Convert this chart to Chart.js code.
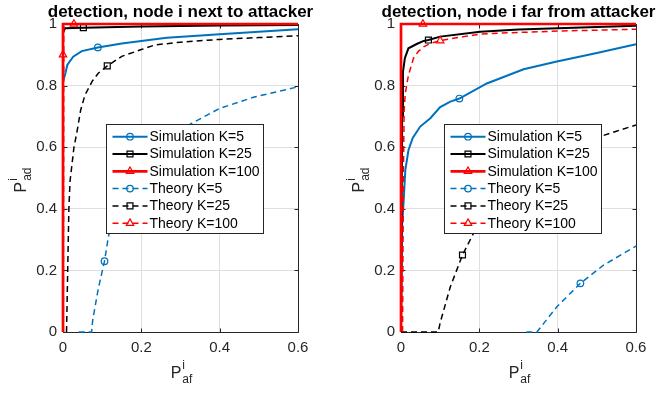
<!DOCTYPE html>
<html><head><meta charset="utf-8">
<script src="https://cdn.jsdelivr.net/npm/chart.js@4/dist/chart.umd.min.js"></script>
<style>
html,body{margin:0;padding:0;background:#fff;}
#wrap{position:relative;width:659px;height:395px;overflow:hidden;background:#fff;}
#c1{position:absolute;left:0;top:0;width:330px;height:395px;}
#c2{position:absolute;left:330px;top:0;width:329px;height:395px;}
</style></head><body>
<div id="wrap"><canvas id="c1" width="330" height="395"></canvas><canvas id="c2" width="329" height="395"></canvas></div>
<script>
// ---------- data ----------
const xTicks = [0, 0.2, 0.4, 0.6];
const yTicks = [0, 0.2, 0.4, 0.6, 0.8, 1];
const seriesNames = ['Simulation K=5', 'Simulation K=25', 'Simulation K=100', 'Theory K=5', 'Theory K=25', 'Theory K=100'];
const panelTitles = ['detection, node i next to attacker', 'detection, node i far from attacker'];

// left panel: node i next to attacker
const nearSimK5X = [0, 0.005, 0.011, 0.026, 0.048, 0.089, 0.15, 0.2, 0.265, 0.4, 0.5, 0.6];
const nearSimK5Y = [0.815, 0.834, 0.867, 0.894, 0.912, 0.924, 0.937, 0.945, 0.955, 0.967, 0.975, 0.983];
const nearSimK25X = [0, 0.005, 0.052, 0.2, 0.4, 0.6];
const nearSimK25Y = [0.97, 0.986, 0.988, 0.992, 0.995, 0.997];
const nearSimK100X = [0, 0, 0, 0.028, 0.6];
const nearSimK100Y = [0, 0.9, 1, 1, 1];
const nearThK5X = [0.04, 0.073, 0.076, 0.09, 0.106, 0.116, 0.13, 0.15, 0.2, 0.25, 0.3, 0.328, 0.4, 0.486, 0.6];
const nearThK5Y = [0, 0, 0.04, 0.14, 0.23, 0.31, 0.38, 0.45, 0.545, 0.605, 0.655, 0.677, 0.726, 0.762, 0.796];
const nearThK25X = [0.009, 0.012, 0.015, 0.018, 0.028, 0.035, 0.045, 0.056, 0.075, 0.09, 0.113, 0.15, 0.2, 0.235, 0.3, 0.4, 0.5, 0.6];
const nearThK25Y = [0, 0.2, 0.4, 0.49, 0.6, 0.645, 0.72, 0.769, 0.815, 0.84, 0.864, 0.895, 0.917, 0.932, 0.941, 0.95, 0.956, 0.962];
const nearThK100X = [0.001, 0.002, 0.6];
const nearThK100Y = [0, 1, 1];

// right panel: node i far from attacker
const farSimK5X = [0, 0.003, 0.007, 0.011, 0.019, 0.03, 0.049, 0.075, 0.1, 0.126, 0.149, 0.219, 0.313, 0.398, 0.5, 0.6];
const farSimK5Y = [0, 0.35, 0.43, 0.526, 0.59, 0.63, 0.667, 0.694, 0.73, 0.748, 0.758, 0.807, 0.853, 0.878, 0.906, 0.934];
const farSimK25X = [0, 0.003, 0.005, 0.01, 0.019, 0.04, 0.058, 0.07, 0.1, 0.202, 0.3, 0.4, 0.6];
const farSimK25Y = [0, 0.7, 0.845, 0.89, 0.921, 0.935, 0.945, 0.948, 0.959, 0.975, 0.982, 0.986, 0.994];
const farSimK100X = [0, 0, 0.056, 0.6];
const farSimK100Y = [0, 1, 1, 1];
const farThK5X = [0.32, 0.347, 0.398, 0.458, 0.517, 0.6];
const farThK5Y = [0, 0, 0.082, 0.158, 0.217, 0.279];
const farThK25X = [0, 0.095, 0.1, 0.126, 0.157, 0.181, 0.2, 0.25, 0.3, 0.35, 0.4, 0.45, 0.507, 0.55, 0.6];
const farThK25Y = [0, 0, 0.03, 0.147, 0.25, 0.31, 0.355, 0.44, 0.5, 0.545, 0.58, 0.61, 0.634, 0.652, 0.672];
const farThK100X = [0.004, 0.006, 0.008, 0.011, 0.019, 0.032, 0.045, 0.058, 0.075, 0.1, 0.16, 0.202, 0.245, 0.4, 0.6];
const farThK100Y = [0, 0.5, 0.72, 0.775, 0.834, 0.889, 0.912, 0.926, 0.937, 0.946, 0.959, 0.967, 0.97, 0.977, 0.983];

// ---------- styles ----------
const FONT = '"Liberation Sans", Arial, Helvetica, sans-serif';
const seriesStyles = [
  {color: '#0072BD', width: 2,   dash: [],     point: 'circle',   r: 3.3},
  {color: '#000000', width: 2,   dash: [],     point: 'rect',     r: 4.2},
  {color: '#FF0000', width: 2.7, dash: [],     point: 'triangle', r: 4.3},
  {color: '#0072BD', width: 1.5, dash: [6, 4], point: 'circle',   r: 3.3},
  {color: '#000000', width: 1.5, dash: [6, 4], point: 'rect',     r: 4.2},
  {color: '#FF0000', width: 1.5, dash: [6, 4], point: 'triangle', r: 4.3}
];
const nearMarkerIdx = [[5], [2], [1, 3], [4], [10], []];
const farMarkerIdx  = [[10], [7], [2], [3], [4], [9]];

function pts(xs, ys) { return xs.map((x, i) => ({x: x, y: ys[i]})); }

function makeDatasets(series, markerIdx) {
  return series.map((s, i) => {
    const st = seriesStyles[i];
    const mk = markerIdx[i];
    return {
      label: seriesNames[i],
      data: pts(s[0], s[1]),
      showLine: true,
      fill: false,
      tension: 0,
      clip: 5,
      borderColor: st.color,
      borderWidth: st.width,
      borderDash: st.dash,
      backgroundColor: 'rgba(0,0,0,0)',
      pointStyle: st.point,
      pointRadius: c => mk.includes(c.dataIndex) ? st.r : 0,
      pointHoverRadius: 0,
      pointBorderWidth: 1.2,
      pointBorderColor: st.color,
      pointBackgroundColor: 'rgba(0,0,0,0)',
      order: 10 - i,
      legendR: st.r
    };
  });
}

function fmt(v) { return String(Math.round(v * 10) / 10); }

function drawMarker(ctx, style, x, y, r) {
  ctx.beginPath();
  if (style === 'circle') {
    ctx.arc(x, y, r, 0, Math.PI * 2);
  } else if (style === 'rect') {
    const s = Math.SQRT1_2 * r;
    ctx.rect(x - s, y - s, 2 * s, 2 * s);
  } else if (style === 'triangle') {
    let a = 0;
    ctx.moveTo(x + Math.sin(a) * r, y - Math.cos(a) * r);
    a += 2 * Math.PI / 3;
    ctx.lineTo(x + Math.sin(a) * r, y - Math.cos(a) * r);
    a += 2 * Math.PI / 3;
    ctx.lineTo(x + Math.sin(a) * r, y - Math.cos(a) * r);
    ctx.closePath();
  }
  ctx.stroke();
}

function drawPLabel(ctx, sub, cx, base) {
  const fMain = '16px ' + FONT, fSmall = '12px ' + FONT;
  ctx.font = fMain; const wP = ctx.measureText('P').width;
  ctx.font = fSmall; const wSup = ctx.measureText('i').width; const wSub = ctx.measureText(sub).width;
  const w = wP + 1 + Math.max(wSup, wSub);
  const x0 = cx - w / 2;
  ctx.fillStyle = '#262626';
  ctx.textAlign = 'left';
  ctx.textBaseline = 'alphabetic';
  ctx.font = fMain; ctx.fillText('P', x0, base);
  ctx.font = fSmall;
  ctx.fillText('i', x0 + wP + 1, base - 9);
  ctx.fillText(sub, x0 + wP + 1, base + 5);
}

const panelPlugin = {
  id: 'panel',
  beforeDatasetsDraw(chart) {
    const ctx = chart.ctx, a = chart.chartArea;
    const xs = chart.scales.x, ys = chart.scales.y;
    const L = Math.round(a.left) + 0.5, R = Math.round(a.right) + 0.5;
    const T = Math.round(a.top) + 0.5, B = Math.round(a.bottom) + 0.5;
    const tl = 4;
    ctx.save();
    ctx.strokeStyle = '#262626';
    ctx.lineWidth = 1;
    ctx.beginPath();
    ctx.rect(L, T, R - L, B - T);
    xTicks.forEach(v => {
      const p = Math.round(xs.getPixelForValue(v)) + 0.5;
      ctx.moveTo(p, B); ctx.lineTo(p, B - tl);
      ctx.moveTo(p, T); ctx.lineTo(p, T + tl);
    });
    yTicks.forEach(v => {
      const p = Math.round(ys.getPixelForValue(v)) + 0.5;
      ctx.moveTo(L, p); ctx.lineTo(L + tl, p);
      ctx.moveTo(R, p); ctx.lineTo(R - tl, p);
    });
    ctx.stroke();
    ctx.restore();
  },
  afterDraw(chart, args, opts) {
    const ctx = chart.ctx, a = chart.chartArea;
    const cx = (a.left + a.right) / 2;
    ctx.save();
    // title
    ctx.fillStyle = '#000';
    ctx.font = 'bold 17px ' + FONT;
    ctx.textAlign = 'center';
    ctx.textBaseline = 'alphabetic';
    ctx.fillText(opts.title, cx, 16.5);
    // x label
    drawPLabel(ctx, 'af', cx + 1, 378);
    // y label
    ctx.save();
    ctx.translate(a.left - 37.5, (a.top + a.bottom) / 2 + 2);
    ctx.rotate(-Math.PI / 2);
    drawPLabel(ctx, 'ad', 0, 0);
    ctx.restore();
    // legend
    const lx = Math.round(a.left + 42.5) + 0.5, ly = 124.5, lw = 157, lh = 109;
    ctx.fillStyle = '#fff';
    ctx.fillRect(lx, ly, lw, lh);
    ctx.strokeStyle = '#262626';
    ctx.lineWidth = 1;
    ctx.strokeRect(lx, ly, lw, lh);
    chart.data.datasets.forEach((ds, i) => {
      const cy = 136.7 + 17.3 * i;
      ctx.save();
      ctx.strokeStyle = ds.borderColor;
      ctx.lineWidth = ds.borderWidth;
      ctx.setLineDash(ds.borderDash || []);
      ctx.beginPath();
      ctx.moveTo(lx + 6, cy); ctx.lineTo(lx + 41, cy);
      ctx.stroke();
      ctx.setLineDash([]);
      ctx.lineWidth = 1.2;
      drawMarker(ctx, ds.pointStyle, lx + 23.5, cy, ds.legendR);
      ctx.restore();
      ctx.fillStyle = '#000';
      ctx.font = '14px ' + FONT;
      ctx.textAlign = 'left';
      ctx.textBaseline = 'middle';
      ctx.fillText(ds.label, lx + 43, cy + 0.5);
    });
    ctx.restore();
  }
};

function makeChart(id, series, markerIdx, title, areaLeft, padRight) {
  const tickFont = {family: FONT, size: 15};
  return new Chart(document.getElementById(id), {
    type: 'scatter',
    data: {datasets: makeDatasets(series, markerIdx)},
    plugins: [panelPlugin],
    options: {
      responsive: false,
      animation: false,
      devicePixelRatio: 1,
      layout: {padding: {left: 0, right: padRight, top: 24, bottom: 0}},
      plugins: {legend: {display: false}, tooltip: {enabled: false}, panel: {title: title}},
      scales: {
        x: {
          type: 'linear', min: 0, max: 0.6,
          afterBuildTicks: s => { s.ticks = xTicks.map(v => ({value: v})); },
          afterFit: s => { s.height = 63; },
          ticks: {font: tickFont, color: '#262626', padding: 7, maxRotation: 0, autoSkip: false, callback: v => fmt(v)},
          grid: {color: '#dfdfdf', lineWidth: 1, drawTicks: false},
          border: {display: false}
        },
        y: {
          type: 'linear', min: 0, max: 1,
          afterBuildTicks: s => { s.ticks = yTicks.map(v => ({value: v})); },
          afterFit: s => { s.width = areaLeft; },
          ticks: {font: tickFont, color: '#262626', padding: 6, autoSkip: false, callback: v => fmt(v)},
          grid: {color: '#dfdfdf', lineWidth: 1, drawTicks: false},
          border: {display: false}
        }
      }
    }
  });
}

makeChart('c1', [
  [nearSimK5X, nearSimK5Y], [nearSimK25X, nearSimK25Y], [nearSimK100X, nearSimK100Y],
  [nearThK5X, nearThK5Y], [nearThK25X, nearThK25Y], [nearThK100X, nearThK100Y]
], nearMarkerIdx, panelTitles[0], 63, 32);

makeChart('c2', [
  [farSimK5X, farSimK5Y], [farSimK25X, farSimK25Y], [farSimK100X, farSimK100Y],
  [farThK5X, farThK5Y], [farThK25X, farThK25Y], [farThK100X, farThK100Y]
], farMarkerIdx, panelTitles[1], 71, 23);
</script>
</body></html>
